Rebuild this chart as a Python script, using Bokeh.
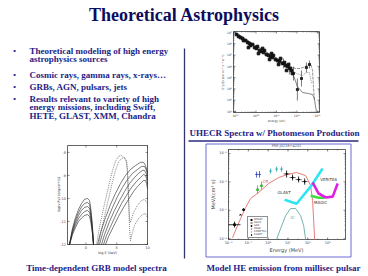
import math
from bokeh.plotting import figure
from bokeh.models import Range1d, Legend, LegendItem
from bokeh.core.properties import value
from bokeh.embed import file_html
from bokeh.resources import INLINE

# ---------------------------------------------------------------- data
TITLE = "Theoretical Astrophysics"
BULLETS = [
    ["Theoretical modeling of high energy", "astrophysics sources"],
    ["Cosmic rays, gamma rays, x-rays\u2026"],
    ["GRBs, AGN, pulsars, jets"],
    ["Results relevant to variety of high", "energy missions, including Swift,", "HETE, GLAST, XMM, Chandra"],
]
CAPTION_UHECR = "UHECR Spectra w/ Photomeson Production"
CAPTION_GRB = "Time-dependent GRB model spectra"
CAPTION_PSR = "Model HE emission from millisec pulsar"

# UHECR panel: log10 E (eV) vs log10 flux
uhecr_x_ticks = [17, 18, 19, 20, 21]
uhecr_y_ticks = [0, 1, 2, 3, 4, 5, 6, 7]
uhecr_pts_logE = [17.05, 17.15, 17.24, 17.34, 17.39, 17.49, 17.59, 17.63, 17.68, 17.73,
                  17.83, 17.93, 18.02, 18.07, 18.12, 18.17, 18.27, 18.32, 18.37, 18.41,
                  18.51, 18.61, 18.66, 18.71, 18.76, 18.80, 18.85, 18.95, 19.05, 19.10,
                  19.15, 19.20, 19.29, 19.39, 19.44, 19.49, 19.54, 19.59, 19.68, 19.73, 19.78]
uhecr_pts_logJ = [6.81, 6.64, 6.55, 6.46, 6.28, 6.28, 6.11, 5.66, 6.02, 5.84,
                  5.93, 5.66, 5.58, 5.75, 5.13, 5.40, 5.31, 5.58, 5.22, 5.40,
                  5.04, 4.96, 4.60, 4.87, 5.13, 4.78, 4.96, 4.60, 4.51, 4.16,
                  4.42, 4.69, 4.25, 4.34, 4.07, 3.63, 3.98, 4.16, 3.81, 3.63, 3.36]
uhecr_err_logE = [19.34, 19.63, 19.83, 20.02, 20.22, 20.46, 20.61]
uhecr_err_logJ = [4.25, 3.81, 3.36, 1.94, 2.92, 3.89, 4.16]
uhecr_err_lo = [3.81, 3.27, 2.74, 0.97, 2.21, 3.45, 3.81]
uhecr_err_hi = [4.69, 4.34, 3.98, 2.92, 3.63, 4.34, 4.51]
uhecr_modelA_logE = [17.0, 17.73, 18.46, 19.20, 19.63, 19.83, 20.02, 20.27, 20.56, 20.76, 20.85, 20.90, 20.95]
uhecr_modelA_logJ = [6.99, 6.11, 5.31, 4.51, 3.98, 3.19, 2.21, 1.68, 1.59, 1.50, 1.15, 0.53, 0.0]
uhecr_modelB_logE = [19.63, 19.93, 20.17, 20.41, 20.66, 20.76, 20.80, 20.85]
uhecr_modelB_logJ = [3.98, 3.81, 3.81, 3.98, 4.25, 3.63, 2.30, 0.97]
uhecr_modelC_logE = [19.68, 19.98, 20.27, 20.46, 20.61, 20.71]
uhecr_modelC_logJ = [3.81, 3.36, 3.19, 3.45, 3.45, 2.50]

# GRB panel: log E (keV) vs log(nu F_nu)
grb_x_ticks = [0, 5, 10]
grb_y_ticks = [-12, -11, -10, -9, -8]
grb_low_logE = [-2.67, -2.19, -1.70, -1.21, -0.72, -0.24, 0.25, 0.58, 0.74, 0.90, 1.07, 1.23]
grb_low_1 = [-12, -11.30, -10.83, -10.48, -10.22, -10.04, -10.00, -10.09, -10.35, -10.74, -11.30, -12]
grb_low_2 = [-12, -11.37, -10.93, -10.61, -10.37, -10.22, -10.17, -10.26, -10.50, -10.85, -11.37, -12]
grb_low_3 = [-12, -11.43, -11.04, -10.74, -10.52, -10.39, -10.35, -10.43, -10.65, -10.96, -11.43, -12]
grb_low_4 = [-12, -11.50, -11.15, -10.87, -10.70, -10.57, -10.52, -10.61, -10.80, -11.09, -11.50, -12]
grb_low_5 = [-12, -11.57, -11.26, -11.00, -10.85, -10.74, -10.70, -10.78, -10.96, -11.22, -11.57, -12]
grb_dot1_logE = [1.72, 2.04, 2.37, 2.85, 3.34, 3.83, 4.32, 4.80, 5.29, 5.78, 6.27, 6.59, 6.76, 6.92,
                 7.08, 7.24, 7.73, 8.38, 9.03, 9.52, 10.0]
grb_dot1_val = [-12, -11.48, -11.04, -10.43, -9.87, -9.30, -8.78, -8.39, -8.17, -8.13, -8.26, -8.43, -9.00, -10.09,
                -10.87, -11.04, -10.61, -10.30, -10.09, -10.04, -10.22]
grb_dot2_logE = [2.04, 2.37, 2.85, 3.34, 3.83, 4.32, 4.80, 5.29, 5.78, 6.27, 6.59, 6.76, 6.92, 7.08,
                 7.24, 7.41, 7.89, 8.54, 9.20, 9.68, 10.0]
grb_dot2_val = [-12, -11.57, -10.96, -10.39, -9.83, -9.26, -8.78, -8.43, -8.26, -8.22, -8.35, -8.78, -9.83, -11.30,
                -11.83, -11.61, -11.17, -10.87, -10.70, -10.65, -10.83]
grb_high_a_logE = [1.88, 2.37, 3.18, 3.99, 4.80, 5.62, 6.43, 7.24, 8.06, 8.87, 9.36, 9.68, 10.0]
grb_high_a_val = [-12, -11.48, -10.83, -10.26, -9.78, -9.35, -9.00, -8.74, -8.57, -8.43, -8.43, -8.57, -8.87]
grb_high_b_logE = [2.20, 2.69, 3.50, 4.32, 5.13, 5.94, 6.76, 7.57, 8.38, 9.03, 9.52, 9.85, 10.0]
grb_high_b_val = [-12, -11.52, -10.91, -10.39, -9.91, -9.52, -9.17, -8.91, -8.74, -8.61, -8.61, -8.78, -9.04]
grb_high_c_logE = [2.53, 3.02, 3.83, 4.64, 5.46, 6.27, 7.08, 7.89, 8.54, 9.20, 9.52, 9.85, 10.0]
grb_high_c_val = [-12, -11.57, -11.00, -10.52, -10.09, -9.70, -9.35, -9.09, -8.91, -8.78, -8.78, -8.96, -9.22]
grb_high_d_logE = [2.85, 3.34, 4.15, 4.97, 5.78, 6.59, 7.41, 8.22, 8.87, 9.36, 9.68, 9.85, 10.0]
grb_high_d_val = [-12, -11.61, -11.13, -10.65, -10.22, -9.87, -9.52, -9.26, -9.09, -8.96, -9.00, -9.13, -9.39]
grb_high_e_logE = [3.18, 3.67, 4.48, 5.29, 6.11, 6.92, 7.73, 8.38, 9.03, 9.36, 9.68, 9.85, 10.0]
grb_high_e_val = [-12, -11.65, -11.22, -10.78, -10.39, -10.04, -9.70, -9.48, -9.30, -9.22, -9.22, -9.35, -9.57]

# Pulsar panel: log10 E (MeV) vs log10 flux (MeV cm^-2 s^-1)
psr_x_ticks = [-4, -2, 0, 2, 4, 6]
psr_y_ticks = [-6, -5, -4, -3]
psr_cr_logE = [-3.60, -2.79, -2.28, -1.78, -0.97, 0.04, 1.05, 1.96, 2.87, 3.78, 4.28, 4.48, 4.59, 4.69]
psr_cr_logF = [-5.97, -5.30, -4.91, -4.59, -4.38, -4.06, -3.85, -3.74, -3.67, -3.78, -4.13, -4.66, -5.37, -6.03]
psr_ic_logE = [0.85, 1.25, 1.76, 2.26, 2.77, 3.27, 3.58, 3.78]
psr_ic_logF = [-6.03, -5.65, -5.19, -4.94, -4.94, -5.19, -5.54, -6.03]
glast_logE = [1.66, 2.87, 4.28, 5.49]
glast_logF = [-4.63, -4.77, -4.17, -3.53]
magic_logE = [4.28, 5.09, 5.70]
magic_logF = [-4.49, -4.56, -4.56]
veritas_logE = [4.48, 5.09, 5.80, 6.51, 7.01]
veritas_logF = [-4.02, -4.41, -4.55, -4.52, -4.06]
rosat_logE, rosat_logF = [-3.39], [-5.51]
rosat_e_lo, rosat_e_hi = [-4.0], [-2.79]
rosat_f_lo, rosat_f_hi = [-5.61], [-5.40]
asca_logE, asca_logF = [-2.79], [-5.16]
sax_logE, sax_logF = [-2.48], [-4.98]
osse_logE, osse_logF = [-1.17, -0.87], [-3.74, -3.74]
osse_lo, osse_hi = [-3.85, -3.85], [-3.64, -3.62]
comptel_logE, comptel_logF = [0.24, 0.85, 1.35], [-3.62, -3.55, -3.55]
comptel_lo, comptel_hi = [-3.71, -3.64, -3.64], [-3.53, -3.46, -3.46]
green_logE, green_logF = [-1.07, -0.67], [-4.27, -4.13]
green_lo, green_hi = [-4.41, -4.27], [-4.13, -3.99]
egret_logE, egret_logF = [1.86, 2.46, 3.07, 3.68], [-3.72, -3.85, -3.92, -3.99]
egret_lo, egret_hi = [-3.85, -3.95, -4.02, -4.10], [-3.60, -3.74, -3.81, -3.88]
egret_e_lo, egret_e_hi = [1.56, 2.16, 2.77, 3.38], [2.16, 2.77, 3.38, 3.98]
psr_label_text = ["CR", "IC", "GLAST", "MAGIC", "VERITAS"]
psr_label_logE = [-0.26, 2.46, 1.60, 5.29, 6.10]
psr_label_logF = [-3.99, -5.26, -4.38, -4.73, -3.93]

# ---------------------------------------------------------------- styling
SERIF = "Liberation Serif"
SANS = "DejaVu Sans"
TITLE_COLOR = "#0c0c5c"
TEXT_COLOR = "#1d1d86"
SEP_COLOR = "#34346e"
BOX_COLOR = "#6a6ad2"
AX = "#222222"
LAB = "#444444"
SUP = str.maketrans("0123456789-", "\u2070\u00b9\u00b2\u00b3\u2074\u2075\u2076\u2077\u2078\u2079\u207b")


def pow_labels(ticks):
    return ["10" + str(t).translate(SUP) for t in ticks]


def log_minor(lo, hi):
    return [d + math.log10(k) for d in range(lo, hi) for k in range(2, 10)]


# one canvas in page pixels (y grows downwards)
p = figure(width=368, height=276, x_range=Range1d(0, 368), y_range=Range1d(276, 0),
           x_axis_type=None, y_axis_type=None, output_backend="svg",
           toolbar_location=None, min_border=0, title=None)
p.outline_line_color = None
p.background_fill_color = "white"
p.border_fill_color = "white"


class Chart:
    """A small panel: data ranges mapped onto a pixel box of the canvas."""

    def __init__(self, xr, yr, left, right, bottom, top):
        self.xs, self.ys = Range1d(*xr), Range1d(*yr)
        self.left, self.right, self.bottom, self.top = left, right, bottom, top
        self.xt, self.yt = Range1d(left, right), Range1d(bottom, top)
        self.data = p.subplot(x_source=self.xs, y_source=self.ys, x_target=self.xt, y_target=self.yt)

    def xstrip(self, py0, py1):
        return p.subplot(x_source=self.xs, y_source=Range1d(0, 1), x_target=self.xt,
                         y_target=Range1d(py0, py1))

    def ystrip(self, px0, px1):
        return p.subplot(x_source=Range1d(0, 1), y_source=self.ys, x_target=Range1d(px0, px1),
                         y_target=self.yt)

    def frame(self):
        self.data.quad(left=[self.xs.start], right=[self.xs.end], bottom=[self.ys.start],
                       top=[self.ys.end], fill_color="white", line_color=AX, line_width=0.7)

    def xaxis(self, ticks, labels, size, minor=(), tick=2.0):
        lo, hi = min(self.xs.start, self.xs.end), max(self.xs.start, self.xs.end)
        mins = [m for m in minor if lo <= m <= hi]
        for a, d in [(self.bottom, -1), (self.top, 1)]:
            s = self.xstrip(a, a + d * tick)
            s.segment(x0=ticks, y0=[0] * len(ticks), x1=ticks, y1=[1] * len(ticks),
                      line_color=AX, line_width=0.5)
            if mins:
                s.segment(x0=mins, y0=[0] * len(mins), x1=mins, y1=[0.5] * len(mins),
                          line_color=AX, line_width=0.4)
        lab = self.xstrip(self.bottom + 1.5, self.bottom + 0.5)
        lab.text(x=ticks, y=[0] * len(ticks), text=labels, text_font=value(SANS),
                 text_font_size=size, text_color=LAB, text_align="center", text_baseline="top")

    def yaxis(self, ticks, labels, size, minor=(), tick=2.0):
        lo, hi = min(self.ys.start, self.ys.end), max(self.ys.start, self.ys.end)
        mins = [m for m in minor if lo <= m <= hi]
        for a, d in [(self.left, 1), (self.right, -1)]:
            s = self.ystrip(a, a + d * tick)
            s.segment(x0=[0] * len(ticks), y0=ticks, x1=[1] * len(ticks), y1=ticks,
                      line_color=AX, line_width=0.5)
            if mins:
                s.segment(x0=[0] * len(mins), y0=mins, x1=[0.5] * len(mins), y1=mins,
                          line_color=AX, line_width=0.4)
        lab = self.ystrip(self.left - 1.5, self.left - 0.5)
        lab.text(x=[0] * len(ticks), y=ticks, text=labels, text_font=value(SANS),
                 text_font_size=size, text_color=LAB, text_align="right", text_baseline="middle")


def label(x, y, txt, size, color=LAB, angle=0.0, font=SANS, style="normal", align="center"):
    p.text(x=[x], y=[y], text=[txt], text_font=value(font), text_font_style=style,
           text_font_size=size, text_color=color, text_align=align, text_baseline="middle",
           angle=angle)


# ---------------------------------------------------------------- slide texts
label(184, 14, TITLE, "18px", TITLE_COLOR, font=SERIF, style="bold")
first_line_y = [50, 74, 86, 98]
line_step = 8.6
bx, by, lx, ly, lt = [], [], [], [], []
for y0, lines in zip(first_line_y, BULLETS):
    bx.append(14)
    by.append(y0)
    for i, ln in enumerate(lines):
        lx.append(29)
        ly.append(y0 + i * line_step)
        lt.append(ln)
p.text(x=bx, y=by, text=["\u2022"] * len(bx), text_font=value(SERIF), text_font_size="9px",
       text_color=TEXT_COLOR, text_align="center", text_baseline="middle")
p.text(x=lx, y=ly, text=lt, text_font=value(SERIF), text_font_style="bold",
       text_font_size="9px", text_color=TEXT_COLOR, text_align="left", text_baseline="middle")
p.line(x=[184, 184], y=[48, 258], line_color=SEP_COLOR, line_width=1.3)

label(274, 132, CAPTION_UHECR, "9px", TEXT_COLOR, font=SERIF, style="bold")
p.line(x=[188, 358], y=[140.5, 140.5], line_color="#2a2a80", line_width=1.4)
p.quad(left=[205.5], right=[350.5], top=[143.5], bottom=[256.5], fill_color=None,
       line_color=BOX_COLOR, line_width=1)
label(96, 267, CAPTION_GRB, "9px", TEXT_COLOR, font=SERIF, style="bold")
label(283, 267, CAPTION_PSR, "9px", TEXT_COLOR, font=SERIF, style="bold")

# ---------------------------------------------------------------- UHECR chart
uh = Chart((16.9, 21.1), (-0.09, 7.08), 233, 319, 112, 31)
uh.frame()
uh.xaxis(uhecr_x_ticks, pow_labels(uhecr_x_ticks), "3px", minor=log_minor(16, 21))
uh.yaxis(uhecr_y_ticks, pow_labels(uhecr_y_ticks), "3px", minor=log_minor(-1, 8))
label(276, 120, "energy (eV)", "3px")
label(222, 71.5, "E\u00b2 J(E) (eV m\u207b\u00b2 s\u207b\u00b9 sr\u207b\u00b9)", "3px", angle=math.pi / 2)
d = uh.data
d.line(uhecr_modelA_logE, uhecr_modelA_logJ, line_color="#333333", line_width=0.6)
d.line(uhecr_modelB_logE, uhecr_modelB_logJ, line_color="#444444", line_width=0.6, line_dash="3 1")
d.line(uhecr_modelC_logE, uhecr_modelC_logJ, line_color="#555555", line_width=0.6, line_dash="1 1")
d.segment(x0=uhecr_err_logE, y0=uhecr_err_lo, x1=uhecr_err_logE, y1=uhecr_err_hi,
          line_color=AX, line_width=0.6)
d.scatter(uhecr_err_logE, uhecr_err_logJ, marker="square", size=2, color=AX)
d.scatter(uhecr_pts_logE, uhecr_pts_logJ, marker="square", size=2.6, color="#111111")

# ---------------------------------------------------------------- GRB chart
grb = Chart((-3, 10), (-12, -7.7), 67, 147, 244, 145)
grb.frame()
grb.xaxis(grb_x_ticks, [str(t) for t in grb_x_ticks], "3.5px")
grb.yaxis(grb_y_ticks, [str(t) for t in grb_y_ticks], "3.5px")
label(107, 252.5, "log E (keV)", "3.5px")
label(58, 194, "log(\u03bd F\u03bd) (erg/cm\u00b2/s)", "3.5px", angle=math.pi / 2)
d = grb.data
for yv in [grb_low_1, grb_low_2, grb_low_3, grb_low_4, grb_low_5]:
    d.line(grb_low_logE, yv, line_color=AX, line_width=0.6)
for xv, yv in [(grb_high_a_logE, grb_high_a_val), (grb_high_b_logE, grb_high_b_val),
               (grb_high_c_logE, grb_high_c_val), (grb_high_d_logE, grb_high_d_val),
               (grb_high_e_logE, grb_high_e_val)]:
    d.line(xv, yv, line_color=AX, line_width=0.6)
d.line(grb_dot1_logE, grb_dot1_val, line_color="#333333", line_width=0.6, line_dash="1 1")
d.line(grb_dot2_logE, grb_dot2_val, line_color="#333333", line_width=0.6, line_dash="1 1")

# ---------------------------------------------------------------- pulsar chart
psr = Chart((-4.0, 7.8), (-6.03, -2.86), 228, 345, 239, 149)
psr.frame()
psr.xaxis(psr_x_ticks, pow_labels(psr_x_ticks), "3.5px", minor=list(range(-4, 8)))
psr.yaxis(psr_y_ticks, pow_labels(psr_y_ticks), "3.5px", minor=log_minor(-7, -2))
label(286, 145.5, "PSR J0218+4232", "3.5px")
label(286, 249.5, "Energy (MeV)", "5px")
label(212, 194, "MeV/(cm\u00b2 s)", "5px", angle=math.pi / 2)
d = psr.data
d.line(psr_cr_logE, psr_cr_logF, line_color="#e25a5a", line_width=0.8)
d.line(psr_ic_logE, psr_ic_logF, line_color="#4f9f9a", line_width=0.8)
d.line(glast_logE, glast_logF, line_color="#2ee6f2", line_width=2.6)
d.line(magic_logE, magic_logF, line_color="#3ee03e", line_width=2.6)
d.line(veritas_logE, veritas_logF, line_color="#e020e0", line_width=2.6)
d.segment(x0=rosat_e_lo, y0=rosat_logF, x1=rosat_e_hi, y1=rosat_logF, line_color="black", line_width=0.8)
d.segment(x0=rosat_logE, y0=rosat_f_lo, x1=rosat_logE, y1=rosat_f_hi, line_color="black", line_width=0.8)
d.segment(x0=osse_logE, y0=osse_lo, x1=osse_logE, y1=osse_hi, line_color="#2a3cc4", line_width=0.8)
d.segment(x0=comptel_logE, y0=comptel_lo, x1=comptel_logE, y1=comptel_hi, line_color="#1fa3ad", line_width=0.8)
d.segment(x0=green_logE, y0=green_lo, x1=green_logE, y1=green_hi, line_color="#35b535", line_width=0.8)
d.segment(x0=egret_logE, y0=egret_lo, x1=egret_logE, y1=egret_hi, line_color="black", line_width=0.8)
d.segment(x0=egret_e_lo, y0=egret_logF, x1=egret_e_hi, y1=egret_logF, line_color="black", line_width=0.6)
d.scatter(green_logE, green_logF, marker="triangle", size=2.5, color="#35b535")
r_rosat = d.scatter(rosat_logE, rosat_logF, marker="square", size=1.8, color="black")
r_asca = d.scatter(asca_logE, asca_logF, marker="x", size=2.2, color="black")
r_sax = d.scatter(sax_logE, sax_logF, marker="circle", size=2, color="black")
r_osse = d.scatter(osse_logE, osse_logF, marker="dash", size=2.5, color="#2a3cc4")
r_comptel = d.scatter(comptel_logE, comptel_logF, marker="dash", size=2.5, color="#1fa3ad")
r_egret = d.scatter(egret_logE, egret_logF, marker="diamond", size=2, color="black")
d.text(x=psr_label_logE, y=psr_label_logF, text=psr_label_text, text_font=value(SANS),
       text_font_size="4px", text_color=["#e25a5a", "#4f9f9a", "#333333", "#333333", "#333333"],
       text_align="center", text_baseline="middle")

legend = Legend(items=[LegendItem(label="ROSAT", renderers=[r_rosat]),
                       LegendItem(label="ASCA", renderers=[r_asca]),
                       LegendItem(label="SAX", renderers=[r_sax]),
                       LegendItem(label="OSSE", renderers=[r_osse]),
                       LegendItem(label="COMPTEL", renderers=[r_comptel]),
                       LegendItem(label="EGRET", renderers=[r_egret])],
                location=(247, 38))
legend.label_text_font = SANS
legend.label_text_font_size = "2.6px"
legend.glyph_height = 3
legend.glyph_width = 4
legend.label_height = 3
legend.label_width = 10
legend.label_standoff = 1
legend.spacing = 0
legend.padding = 1
legend.margin = 0
legend.border_line_color = AX
legend.border_line_width = 0.5
legend.background_fill_alpha = 1.0
p.add_layout(legend)

open("out.html", "w").write(file_html(p, INLINE))
